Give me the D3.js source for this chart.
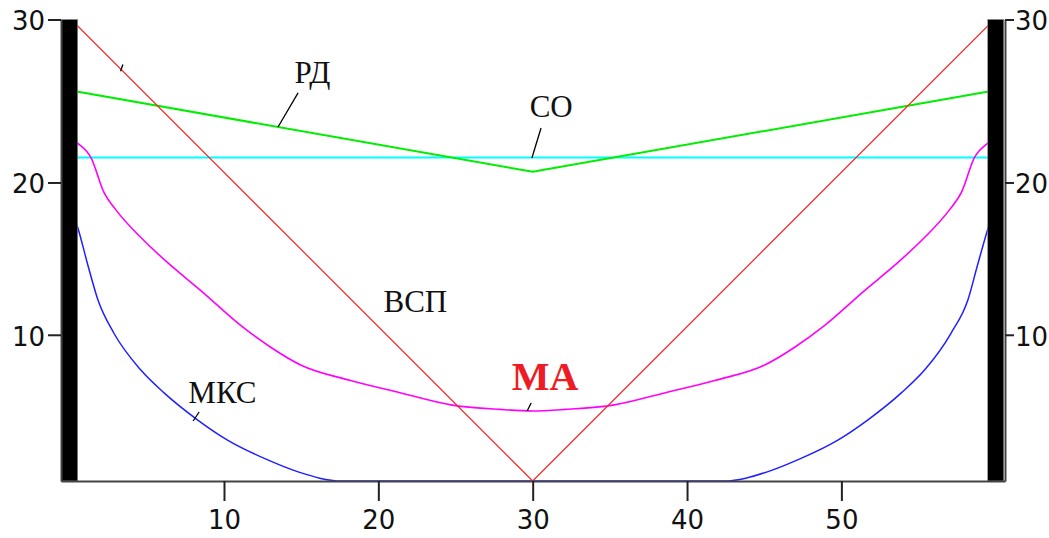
<!DOCTYPE html>
<html>
<head>
<meta charset="utf-8">
<script src="https://cdn.jsdelivr.net/npm/d3@7"></script>
<style>
  body { margin: 0; background: #fff; }
  svg { display: block; }
</style>
</head>
<body>
<div id="chart"></div>
<script>
const width = 1049
const height = 538

// axis limits as Mathcad shows them
const xMin = -0.56, xMax = 60.6
const yMin = 0.4, yMax = 30.7
const xTicks = [10, 20, 30, 40, 50]
const yTicks = [10, 20, yMax]
const walls = [0, 60]

// ВСП (red V)
const vspX = [0, 30, 60]
const vspY = [30.8, 0.4, 30.8]
// РД (green)
const rdX = [0, 30, 60]
const rdY = [26.05, 20.7, 26.05]
// СО (cyan, flat)
const coX = [0, 60]
const coY = [21.64, 21.64]
// MA (magenta)
const maX = [0, 0.5, 1.4, 2.2, 3.0, 4.6, 6.5, 8.5, 11.1, 13.0, 15.0, 18.2, 21.4, 24.7, 27.9, 30,
             32.1, 35.3, 38.6, 41.8, 45.0, 47.0, 48.9, 51.5, 53.5, 55.4, 57.0, 57.8, 58.6, 59.5, 60]
const maY = [23.0, 22.6, 21.6, 19.4, 18.2, 16.4, 14.6, 12.9, 10.6, 9.2, 8.0, 7.0, 6.2, 5.4, 5.1, 5.0,
             5.1, 5.4, 6.2, 7.0, 8.0, 9.2, 10.6, 12.9, 14.6, 16.4, 18.2, 19.4, 21.6, 22.6, 23.0]
// МКС (blue)
const mksX = [0, 0.54, 1.2, 1.83, 2.87, 4.6, 6.1, 8.3, 10.2, 12.8, 14.8, 17.6, 20, 30, 40,
              42.4, 45.2, 47.2, 49.8, 51.7, 53.9, 55.4, 57.1, 58.2, 58.8, 59.5, 60]
const mksY = [18.6, 17.0, 14.5, 12.3, 10.1, 7.7, 6.2, 4.4, 3.1, 1.8, 1.0, 0.4, 0.4, 0.4, 0.4,
              0.4, 1.0, 1.8, 3.1, 4.4, 6.2, 7.7, 10.1, 12.3, 14.5, 17.0, 18.6]

// curve labels: text anchor point and leader line, in data units
const labelText = ["РД", "СО", "ВСП", "МКС", "MA"]
const labelAt = [[15.73, 26.53], [31.2, 24.3], [22.4, 11.5], [9.9, 5.52], [30.8, 6.38]]
const leaders = [[[13.5, 23.64], [14.8, 25.88]], [[29.95, 21.61], [30.54, 23.58]],
                 [[3.3, 27.3], [3.45, 27.75]], [[8.0, 4.34], [8.39, 4.93]], [[29.64, 5.0], [29.9, 5.52]]]

const x = d3.scaleLinear().domain([xMin, xMax]).range([61, 1005])
const y = d3.scaleLinear().domain([yMin, yMax]).range([481, 19.5])

const svg = d3.select("#chart").append("svg")
    .attr("width", width)
    .attr("height", height)

svg.append("clipPath").attr("id", "plot")
  .append("rect")
    .attr("x", x(xMin)).attr("y", y(yMax))
    .attr("width", x(xMax) - x(xMin)).attr("height", y(yMin) - y(yMax))

const series = [
  { xs: coX, ys: coY, color: "#00ffff", w: 2, curve: d3.curveLinear },
  { xs: rdX, ys: rdY, color: "#00ee00", w: 2, curve: d3.curveLinear },
  { xs: maX, ys: maY, color: "#ff00ff", w: 1.6, curve: d3.curveMonotoneX },
  { xs: mksX, ys: mksY, color: "#2020ff", w: 1.5, curve: d3.curveMonotoneX },
  { xs: vspX, ys: vspY, color: "#ff2020", w: 1.2, curve: d3.curveLinear },
]

svg.append("g").attr("clip-path", "url(#plot)")
  .selectAll("path")
  .data(series)
  .join("path")
    .attr("fill", "none")
    .attr("stroke", d => d.color)
    .attr("stroke-width", d => d.w)
    .attr("d", d => d3.line().curve(d.curve).x(p => x(p[0])).y(p => y(p[1]))(d.xs.map((v, i) => [v, d.ys[i]])))

// thick walls at x=0 and x=60
svg.append("g").selectAll("rect")
  .data(walls)
  .join("rect")
    .attr("x", d => x(d) - 8)
    .attr("y", y(yMax))
    .attr("width", 16)
    .attr("height", y(yMin) - y(yMax))
    .attr("fill", "#000")
    .attr("stroke", "#888")
    .attr("stroke-width", 0.6)

// axes
const tickFont = "DejaVu Sans, sans-serif"
const yFmt = d => Math.floor(d)

const gl = svg.append("g")
    .attr("transform", `translate(${x(xMin)},0)`)
    .call(d3.axisLeft(y).tickValues(yTicks).tickFormat(yFmt).tickSize(13).tickSizeOuter(0).tickPadding(3))
const gr = svg.append("g")
    .attr("transform", `translate(${x(xMax)},0)`)
    .call(d3.axisRight(y).tickValues(yTicks).tickFormat(yFmt).tickSize(9).tickSizeOuter(0).tickPadding(1))
const gb = svg.append("g")
    .attr("transform", `translate(0,${y(yMin)})`)
    .call(d3.axisBottom(x).tickValues(xTicks).tickSize(20).tickSizeOuter(0).tickPadding(10))

for (const g of [gl, gr, gb]) {
  g.select(".domain").attr("stroke", "#444").attr("stroke-width", 2)
  g.selectAll(".tick line").attr("stroke", "#222").attr("stroke-width", 2)
  g.selectAll("text").attr("fill", "#111").style("font-family", tickFont).style("font-size", "26px")
}
gl.selectAll("text").attr("dy", "0.4em")
gr.selectAll("text").attr("dy", "0.4em")

// curve labels
svg.append("g")
    .attr("stroke", "#000")
    .attr("stroke-width", 1.3)
  .selectAll("line")
  .data(leaders)
  .join("line")
    .attr("x1", d => x(d[0][0])).attr("y1", d => y(d[0][1]))
    .attr("x2", d => x(d[1][0])).attr("y2", d => y(d[1][1]))

svg.append("g")
    .style("font-family", "Liberation Serif, Times New Roman, serif")
  .selectAll("text")
  .data(labelText)
  .join("text")
    .attr("x", (d, i) => x(labelAt[i][0]))
    .attr("y", (d, i) => y(labelAt[i][1]))
    .attr("text-anchor", "middle")
    .style("font-size", d => d === "MA" ? "40px" : "31px")
    .style("font-weight", d => d === "MA" ? "bold" : "normal")
    .attr("fill", d => d === "MA" ? "#ee1c25" : "#111")
    .text(d => d)
</script>
</body>
</html>
